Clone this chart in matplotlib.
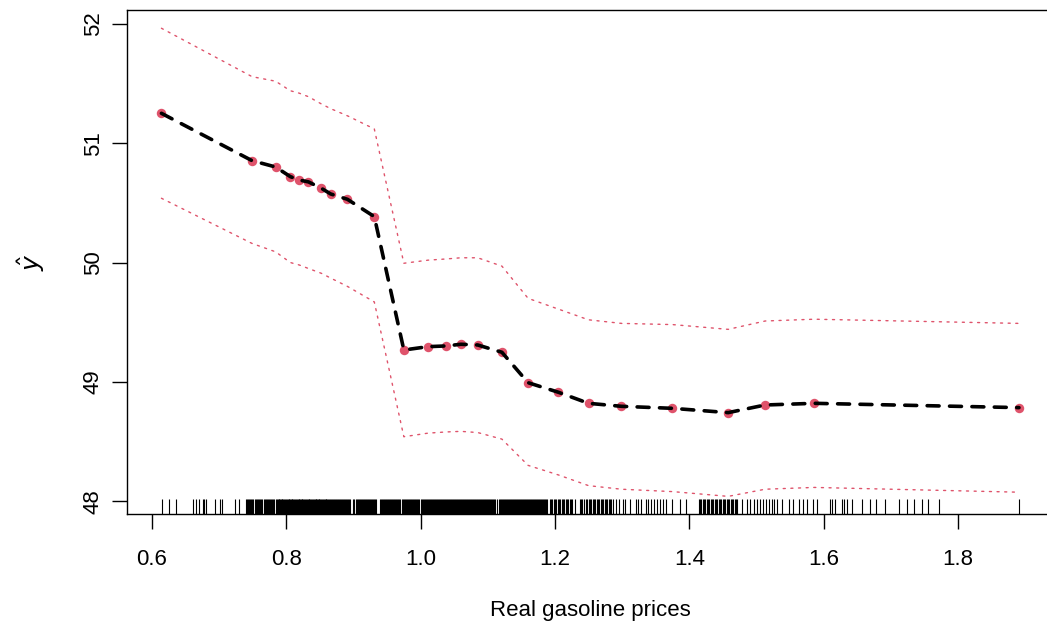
import matplotlib
matplotlib.use("Agg")
import matplotlib.pyplot as plt
import matplotlib.transforms as mtransforms

plt.rcParams['font.family'] = ['Liberation Sans', 'DejaVu Sans']

# fitted values at evaluation points
price = [0.614, 0.749, 0.784, 0.806, 0.819, 0.833, 0.852, 0.866, 0.891, 0.931,
         0.975, 1.011, 1.038, 1.060, 1.085, 1.121, 1.160, 1.205, 1.250, 1.299,
         1.375, 1.458, 1.513, 1.586, 1.891]
yhat = [51.251, 50.854, 50.801, 50.720, 50.692, 50.676, 50.623, 50.575, 50.530, 50.385,
        49.267, 49.295, 49.301, 49.315, 49.309, 49.248, 48.993, 48.913, 48.820, 48.795,
        48.778, 48.742, 48.806, 48.820, 48.784]
upper = [51.964, 51.558, 51.520, 51.440, 51.420, 51.390, 51.330, 51.290, 51.230, 51.120,
         49.994, 50.020, 50.030, 50.040, 50.040, 49.970, 49.700, 49.610, 49.520, 49.490,
         49.480, 49.440, 49.510, 49.525, 49.490]
lower = [50.539, 50.160, 50.090, 50.000, 49.980, 49.950, 49.910, 49.870, 49.800, 49.670,
         48.540, 48.570, 48.580, 48.585, 48.575, 48.520, 48.300, 48.220, 48.130, 48.100,
         48.080, 48.040, 48.100, 48.115, 48.075]

# observed prices (rug)
rug = [0.6144, 0.6253, 0.6357, 0.6606, 0.6655, 0.6695, 0.6755, 0.6774, 0.6804, 0.6943,
       0.7013, 0.7047, 0.7236, 0.730,
       0.740, 0.743, 0.745, 0.748, 0.751, 0.753, 0.756, 0.758, 0.761, 0.764, 0.766, 0.769,
       0.771, 0.774, 0.777, 0.779, 0.782, 0.784, 0.787, 0.789, 0.792, 0.794, 0.797, 0.799,
       0.802, 0.804, 0.807, 0.809, 0.812, 0.814, 0.817, 0.819, 0.822, 0.824, 0.827, 0.829,
       0.832, 0.834, 0.837, 0.839, 0.842, 0.844, 0.847, 0.849, 0.852, 0.854, 0.857, 0.859,
       0.862, 0.865, 0.868, 0.871, 0.874, 0.877, 0.880, 0.883, 0.886, 0.889, 0.892, 0.895,
       0.900, 0.903, 0.906, 0.909, 0.912, 0.915, 0.918, 0.921, 0.924, 0.927, 0.930, 0.934,
       0.940, 0.943, 0.946, 0.949, 0.952, 0.955, 0.958, 0.961, 0.964, 0.967, 0.970, 0.973,
       0.976, 0.979, 0.982, 0.985, 0.988, 0.991, 0.994, 0.997,
       1.000, 1.003, 1.006, 1.009, 1.012, 1.015, 1.018, 1.021, 1.024, 1.027, 1.030, 1.033,
       1.036, 1.039, 1.042, 1.045, 1.048, 1.051, 1.054, 1.057, 1.060, 1.063, 1.066, 1.069,
       1.072, 1.075, 1.078, 1.081, 1.084, 1.087, 1.090, 1.093, 1.096, 1.099, 1.102, 1.105,
       1.108, 1.111, 1.113,
       1.116, 1.119, 1.122, 1.125, 1.128, 1.131, 1.134, 1.137, 1.140, 1.143, 1.146, 1.149,
       1.152, 1.155, 1.158, 1.161, 1.164, 1.167, 1.170, 1.173, 1.176, 1.179, 1.182, 1.185,
       1.188,
       1.193, 1.196, 1.199, 1.202, 1.205, 1.208, 1.211, 1.214, 1.217, 1.220, 1.223, 1.226,
       1.230,
       1.238, 1.241, 1.244, 1.247, 1.250, 1.253, 1.256, 1.259, 1.262, 1.265, 1.268, 1.271,
       1.274, 1.277, 1.280, 1.283, 1.287,
       1.291, 1.296, 1.302, 1.305, 1.312, 1.321, 1.324, 1.328, 1.336, 1.339, 1.343, 1.347,
       1.352, 1.357, 1.361, 1.365, 1.374, 1.386, 1.395,
       1.414, 1.417, 1.420, 1.423, 1.426, 1.429, 1.432, 1.435, 1.438, 1.441, 1.444, 1.447,
       1.450, 1.453, 1.456, 1.459, 1.462, 1.465, 1.468, 1.471,
       1.478, 1.486, 1.490, 1.496, 1.501, 1.505, 1.510, 1.515, 1.519, 1.523, 1.526, 1.530,
       1.538, 1.548, 1.554, 1.563, 1.570, 1.575, 1.585, 1.590, 1.609, 1.612, 1.617, 1.627,
       1.631, 1.635, 1.643, 1.657, 1.669, 1.678, 1.692, 1.713, 1.724, 1.735, 1.746, 1.755,
       1.772, 1.891,
       # further observations inside the dense stretches
       0.7415, 0.7465, 0.7495, 0.7545, 0.7595, 0.7625, 0.7675, 0.7725, 0.7755, 0.7805,
       0.7855, 0.7885, 0.7905, 0.7935, 0.7955, 0.7985, 0.8005, 0.8035, 0.8055, 0.8085,
       0.8105, 0.8135, 0.8155, 0.8185, 0.8205, 0.8235, 0.8255, 0.8285, 0.8305, 0.8335,
       0.8355, 0.8385, 0.8405, 0.8435, 0.8455, 0.8485, 0.8505, 0.8535, 0.8555, 0.8585,
       0.8605, 0.8635, 0.8665, 0.8695, 0.8725, 0.8755, 0.8785, 0.8815, 0.8845, 0.8875,
       0.8905, 0.8935, 0.9015, 0.9045, 0.9075, 0.9105, 0.9135, 0.9165, 0.9195, 0.9225,
       0.9255, 0.9285, 0.9315,
       0.9415, 0.9445, 0.9475, 0.9505, 0.9535, 0.9565, 0.9595, 0.9625, 0.9655, 0.9685,
       0.9715, 0.9745, 0.9775, 0.9805, 0.9835, 0.9865, 0.9895, 0.9925, 0.9955,
       1.0015, 1.0045, 1.0075, 1.0105, 1.0135, 1.0165, 1.0195, 1.0225, 1.0255, 1.0285,
       1.0315, 1.0345, 1.0375, 1.0405, 1.0435, 1.0465, 1.0495, 1.0525, 1.0555, 1.0585,
       1.0615, 1.0645, 1.0675, 1.0705, 1.0735, 1.0765, 1.0795, 1.0825, 1.0855, 1.0885,
       1.0915, 1.0945, 1.0975, 1.1005, 1.1035, 1.1065, 1.1095,
       1.1175, 1.1205, 1.1235, 1.1265, 1.1295, 1.1325, 1.1355, 1.1385, 1.1415, 1.1445,
       1.1475, 1.1505, 1.1535, 1.1565, 1.1595, 1.1625, 1.1655, 1.1685, 1.1715, 1.1745,
       1.1775, 1.1805, 1.1835, 1.1865,
       1.1945, 1.2005, 1.2065, 1.2125, 1.2185, 1.2245,
       1.2395, 1.2455, 1.2515, 1.2575, 1.2635, 1.2695, 1.2755, 1.2815,
       1.4155, 1.4215, 1.4275, 1.4335, 1.4395, 1.4455, 1.4515, 1.4575, 1.4635, 1.4695]

xticks = [0.6, 0.8, 1.0, 1.2, 1.4, 1.6, 1.8]
xticklabels = ["0.6", "0.8", "1.0", "1.2", "1.4", "1.6", "1.8"]
yticks = [48, 49, 50, 51, 52]
yticklabels = ["48", "49", "50", "51", "52"]

RED = "#DF536B"

fig = plt.figure(figsize=(10.47, 6.28), dpi=100)
ax = fig.add_axes([0.1216, 0.1811, 0.8837, 0.8030])

ax.plot(price, upper, color=RED, lw=1.0, linestyle=(0, (1.5, 4)), dash_capstyle='round', zorder=2)
ax.plot(price, lower, color=RED, lw=1.0, linestyle=(0, (1.5, 4)), dash_capstyle='round', zorder=2)
ax.plot(price, yhat, 'o', color=RED, markersize=6.8, markeredgewidth=0, zorder=3)
ax.plot(price, yhat, color='black', lw=2.6, linestyle=(0, (3.3, 2.9)), dash_capstyle='round', zorder=4)

trans = mtransforms.blended_transform_factory(ax.transData, ax.transAxes)
ax.vlines(rug, 0, 0.03, transform=trans, color='black', lw=0.8, zorder=1)

ax.set_xlim(0.5632, 1.941)
ax.set_ylim(47.890, 52.117)
ax.set_xticks(xticks)
ax.set_xticklabels(xticklabels)
ax.set_yticks(yticks)
ax.set_yticklabels(yticklabels, rotation=90, va='center')
ax.tick_params(axis='both', labelsize=16, length=10.8, width=1.0)
ax.tick_params(axis='x', pad=14)
ax.tick_params(axis='y', pad=6)
for s in ['left', 'bottom', 'top', 'right']:
    ax.spines[s].set_linewidth(1.0)

ax.set_xlabel("Real gasoline prices", fontsize=16, labelpad=22)
ax.set_ylabel(r"$\hat{y}$", fontsize=18, labelpad=26)

fig.savefig("out.png", dpi=100)
